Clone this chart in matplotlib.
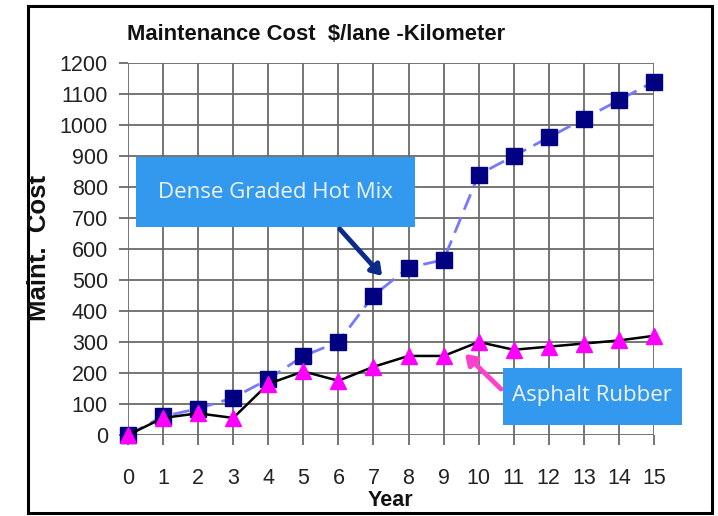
import matplotlib.pyplot as plt
from matplotlib.patches import Rectangle, FancyArrowPatch

# Maintenance cost per lane-km over the pavement life
years = list(range(16))
dense_graded = [0, 60, 85, 120, 180, 255, 300, 450, 540, 565, 840, 900, 960, 1020, 1080, 1140]
asphalt_rubber = [0, 55, 70, 55, 165, 205, 175, 220, 255, 255, 300, 275, 285, 295, 305, 320]
y_ticks = list(range(0, 1300, 100))

W, H = 718, 516


def fx(px):
    return px / W


def fy(py):
    return 1 - py / H


plt.rcParams['font.family'] = ['Liberation Sans', 'DejaVu Sans']

fig = plt.figure(figsize=(W / 100, H / 100), dpi=100)
ax = fig.add_axes([fx(128), fy(435), (654 - 128) / W, (435 - 63) / H])

ax.plot(years, dense_graded, color='#7878ff', lw=2, ls=(0, (6, 3)),
        marker='s', ms=12, mfc='#000080', mec='#000080', clip_on=False, zorder=3)
ax.plot(years, asphalt_rubber, color='black', lw=1.8,
        marker='^', ms=12, mfc='#ff00ff', mec='#ff00ff', clip_on=False, zorder=4)

ax.set_xlim(0, 15)
ax.set_ylim(0, 1200)
ax.set_xticks(years)
ax.set_yticks(y_ticks)
ax.grid(True, color='#6a6a6a', lw=1.3)
ax.set_axisbelow(True)
for s in ax.spines.values():
    s.set_visible(False)
ax.tick_params(axis='x', direction='out', length=7.5, width=1.3, color='#6a6a6a',
               pad=16, labelsize=15.5, labelcolor='#222222')
ax.tick_params(axis='y', direction='out', length=6.5, width=1.3, color='#6a6a6a',
               pad=8, labelsize=15.5, labelcolor='#222222')

fig.text(fx(127), fy(35), 'Maintenance Cost  $/lane -Kilometer', fontsize=15.8,
         fontweight='bold', ha='left', va='center', color='#111111')
fig.text(fx(39), fy(248), 'Maint.  Cost', fontsize=18.5, fontweight='bold',
         rotation=90, ha='center', va='center', color='#111111')
fig.text(fx(390), fy(501), 'Year', fontsize=15.5, fontweight='bold',
         ha='center', va='center', color='#111111')

# callout boxes
fig.add_artist(Rectangle((fx(136), fy(227)), (415 - 136) / W, (227 - 157) / H,
                         transform=fig.transFigure, facecolor='#3399ee', edgecolor='none', zorder=5))
fig.text(fx(275), fy(192), 'Dense Graded Hot Mix', fontsize=16, color='#f0f4f8',
         family=['Open Sans', 'DejaVu Sans'], ha='center', va='center', zorder=6)
fig.add_artist(Rectangle((fx(503), fy(425)), (682 - 503) / W, (425 - 368) / H,
                         transform=fig.transFigure, facecolor='#3399ee', edgecolor='none', zorder=5))
fig.text(fx(592), fy(396), 'Asphalt Rubber', fontsize=16, color='#f0f4f8',
         family=['Open Sans', 'DejaVu Sans'], ha='center', va='center', zorder=6)

fig.add_artist(FancyArrowPatch((fx(338), fy(227)), (fx(384), fy(278)), transform=fig.transFigure,
                               arrowstyle='-|>,head_length=6,head_width=4', color='#0b2a8a',
                               lw=3.5, zorder=6))
fig.add_artist(FancyArrowPatch((fx(503), fy(391)), (fx(463), fy(352)), transform=fig.transFigure,
                               arrowstyle='-|>,head_length=6,head_width=4', color='#ff40cc',
                               lw=3.5, zorder=6))

# outer frame
fig.add_artist(Rectangle((fx(28), fy(513)), (712 - 28) / W, (513 - 6) / H,
                         transform=fig.transFigure, fill=False, edgecolor='black', lw=2.2))

fig.savefig('out.png', dpi=100)
